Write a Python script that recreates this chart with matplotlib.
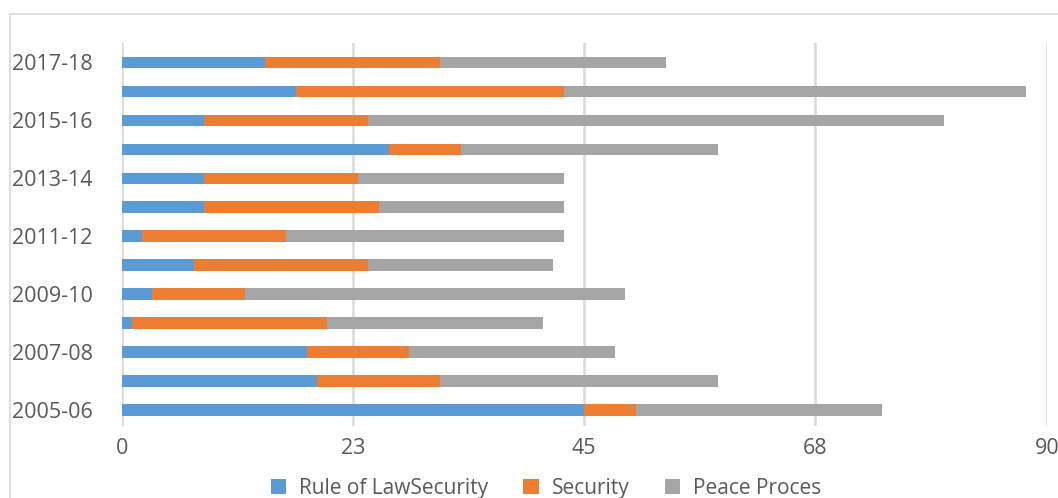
import numpy as np
import matplotlib.pyplot as plt
from matplotlib.patches import Rectangle

# data, bottom category first
years = ['2005-06', '2006-07', '2007-08', '2008-09', '2009-10', '2010-11', '2011-12',
         '2012-13', '2013-14', '2014-15', '2015-16', '2016-17', '2017-18']
rule_of_law = [45, 19, 18, 1, 3, 7, 2, 8, 8, 26, 8, 17, 14]
security = [5, 12, 10, 19, 9, 17, 14, 17, 15, 7, 16, 26, 17]
peace_process = [24, 27, 20, 21, 37, 18, 27, 18, 20, 25, 56, 45, 22]
series_names = ['Rule of LawSecurity', 'Security', 'Peace Proces']
x_ticks = [0, 22.5, 45, 67.5, 90]
x_tick_labels = ['0', '23', '45', '68', '90']

colors = ['#5B9BD5', '#ED7D31', '#A5A5A5']
text_color = '#595959'
grid_color = '#D9D9D9'

plt.rcParams['font.family'] = ['Open Sans', 'DejaVu Sans']

fig = plt.figure(figsize=(10.58, 4.98), dpi=100)
ax = fig.add_axes([0.1149, 0.1446, 0.8745, 0.769])

# chart area border (partly cut off)
fig.patches.append(Rectangle((10 / 1058, -0.1), 1.2, 1 - 14 / 498 + 0.1,
                             transform=fig.transFigure, fill=False,
                             edgecolor='#D9D9D9', lw=1.2))

y = np.arange(len(years))
left = np.zeros(len(years))
for vals, name, c in zip([rule_of_law, security, peace_process], series_names, colors):
    ax.barh(y, vals, left=left, height=0.4, color=c, label=name, zorder=3)
    left = left + np.array(vals)

ax.set_xlim(0, 90)
ax.set_ylim(-0.55, 12.67)
ax.set_xticks(x_ticks)
ax.set_xticklabels(x_tick_labels)
ax.set_yticks(y[::2])
ax.set_yticklabels(years[::2])
ax.tick_params(axis='both', length=0, labelsize=15.5, colors=text_color)
ax.tick_params(axis='x', pad=9)
for lbl in ax.get_yticklabels():
    lbl.set_horizontalalignment('left')
    lbl.set_x(-0.1132)

for s in ax.spines.values():
    s.set_visible(False)
ax.xaxis.grid(True, color=grid_color, lw=1.8, zorder=0)
ax.set_axisbelow(True)

ax.legend(loc='center', bbox_to_anchor=(546 / 1058, 10 / 498),
          bbox_transform=fig.transFigure, ncol=3, frameon=False,
          fontsize=15, labelcolor=text_color, handlelength=0.75, handleheight=0.75,
          columnspacing=1.7, handletextpad=0.6)

fig.savefig('out.png', dpi=100)
